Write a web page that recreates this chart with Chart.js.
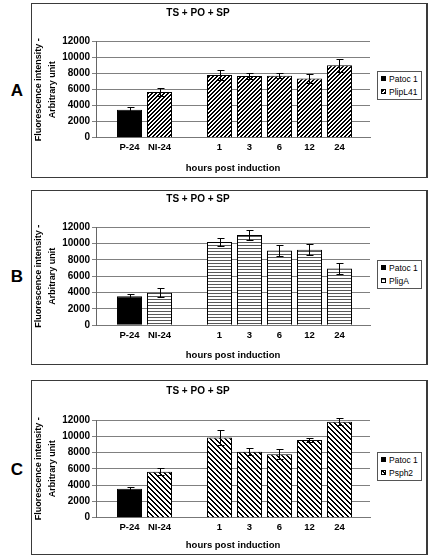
<!DOCTYPE html>
<html>
<head>
<meta charset="utf-8">
<script src="https://cdn.jsdelivr.net/npm/chart.js@4/dist/chart.umd.min.js"></script>
<style>
  body { margin: 0; background: #fff; font-family: 'Liberation Sans', Arial, sans-serif; }
  #page { position: relative; width: 430px; height: 560px; overflow: hidden; }
  .box { position: absolute; left: 31px; width: 397px; height: 175px; box-sizing: border-box;
         border: 1px solid #3a3a3a; border-right-width: 2px; background: #fff; }
  .box canvas { position: absolute; left: 0; top: 0; }
  .title { position: absolute; left: 138px; width: 120px; text-align: center; font-weight: bold;
           font-size: 10px; line-height: 12px; color: #000; }
  .letter { position: absolute; left: 6px; width: 22px; text-align: center; font-weight: bold;
            font-size: 17px; line-height: 18px; color: #000; }
  .legend { position: absolute; left: 377px; width: 45px; height: 29px; box-sizing: border-box;
            border: 1px solid #555; background: #fff; font-size: 8.5px; color: #000; }
  .legend div { position: absolute; left: 3px; height: 10px; line-height: 10px; white-space: nowrap; }
  .legend span { display: inline-block; width: 5px; height: 5px; border: 1px solid #000;
                 box-sizing: border-box; margin-right: 3px; vertical-align: 1px; }
</style>
</head>
<body>
<div id="page"></div>
<script>
// data
const categories = ['P-24', 'NI-24', '', '1', '3', '6', '12', '24'];
const controlName = 'Patoc 1';
const reporterNames = ['PlipL41', 'PligA', 'Psph2'];
const panelLetters = ['A', 'B', 'C'];
const chartTitle = 'TS + PO + SP';
const xTitle = 'hours post induction';
const yTitle = ['Fluorescence intensity -', 'Arbitrary unit'];

const patocA    = [3500, null, null, null, null, null, null, null];
const patocAErr = [280, null, null, null, null, null, null, null];
const plipL41    = [null, 5700, null, 7850, 7700, 7750, 7400, 9050];
const plipL41Err = [null, 500, null, 600, 400, 300, 600, 850];

const patocB    = [3550, null, null, null, null, null, null, null];
const patocBErr = [250, null, null, null, null, null, null, null];
const pligA    = [null, 4000, null, 10200, 11050, 9150, 9250, 6950];
const pligAErr = [null, 550, null, 550, 600, 700, 650, 650];

const patocC    = [3550, null, null, null, null, null, null, null];
const patocCErr = [280, null, null, null, null, null, null, null];
const psph2    = [null, 5650, null, 9850, 8100, 7800, 9550, 11800];
const psph2Err = [null, 400, null, 900, 400, 650, 300, 400];

const controls = [patocA, patocB, patocC];
const controlErrs = [patocAErr, patocBErr, patocCErr];
const reporters = [plipL41, pligA, psph2];
const reporterErrs = [plipL41Err, pligAErr, psph2Err];

// layout of the three panels (page pixels)
const panelLayout = [
  { top: 3,   areaTop: 38.7, areaBottom: 134.7, titleY: 7,   legendTop: 71,  letterY: 82 },
  { top: 190, areaTop: 37.3, areaBottom: 135.3, titleY: 193, legendTop: 260, letterY: 268 },
  { top: 380, areaTop: 40,   areaBottom: 137.7, titleY: 385, legendTop: 452, letterY: 461 }
];
const hatchKinds = ['up', 'horiz', 'down'];

function hatchCanvas(kind) {
  const c = document.createElement('canvas');
  const n = kind === 'horiz' ? 3 : kind === 'up' ? 4 : 5;
  c.width = n; c.height = n;
  const g = c.getContext('2d');
  g.fillStyle = '#fff';
  g.fillRect(0, 0, n, n);
  for (let y = 0; y < n; y++) {
    for (let x = 0; x < n; x++) {
      let on = false;
      if (kind === 'up') on = (x + y) % n < 2;
      if (kind === 'down') on = ((x - y) % n + n) % n < 2;
      if (kind === 'horiz') on = y === 0;
      if (on) {
        g.fillStyle = kind === 'horiz' ? '#5a5a5a' : '#000';
        g.fillRect(x, y, 1, 1);
      }
    }
  }
  return c;
}

const errorBars = {
  id: 'errorBars',
  afterDatasetsDraw(chart) {
    const ctx = chart.ctx;
    const yScale = chart.scales.y;
    ctx.save();
    ctx.strokeStyle = '#000';
    ctx.lineWidth = 1;
    chart.data.datasets.forEach((ds, di) => {
      chart.getDatasetMeta(di).data.forEach((bar, j) => {
        const pt = ds.data[j];
        if (!pt.err) return;
        const x = Math.round(bar.x) + 0.5;
        const top = Math.round(yScale.getPixelForValue(pt.y + pt.err)) + 0.5;
        const bot = Math.round(yScale.getPixelForValue(pt.y - pt.err)) + 0.5;
        ctx.beginPath();
        ctx.moveTo(x, top); ctx.lineTo(x, bot);
        ctx.moveTo(x - 3, top); ctx.lineTo(x + 4, top);
        ctx.moveTo(x - 3, bot); ctx.lineTo(x + 4, bot);
        ctx.stroke();
      });
    });
    ctx.restore();
  }
};

function toPoints(vals, errs) {
  const pts = [];
  vals.forEach((v, i) => { if (v !== null) pts.push({ x: i, y: v, err: errs[i] }); });
  return pts;
}

const page = document.getElementById('page');
const tickFont = { family: "'Liberation Sans', Arial, sans-serif", size: 10, weight: 'bold' };

panelLayout.forEach((L, p) => {
  const box = document.createElement('div');
  box.className = 'box';
  box.style.top = L.top + 'px';
  const canvas = document.createElement('canvas');
  canvas.width = 394; canvas.height = 173;
  box.appendChild(canvas);
  page.appendChild(box);

  const title = document.createElement('div');
  title.className = 'title';
  title.style.top = L.titleY + 'px';
  title.textContent = chartTitle;
  page.appendChild(title);

  const letter = document.createElement('div');
  letter.className = 'letter';
  letter.style.top = L.letterY + 'px';
  letter.textContent = panelLetters[p];
  page.appendChild(letter);

  const tile = hatchCanvas(hatchKinds[p]);
  const legend = document.createElement('div');
  legend.className = 'legend';
  legend.style.top = L.legendTop + 'px';
  legend.innerHTML =
    '<div style="top:2px"><span style="background:#000"></span>' + controlName + '</div>' +
    '<div style="top:15px"><span style="background-image:url(' + tile.toDataURL() + ')"></span>' + reporterNames[p] + '</div>';
  page.appendChild(legend);

  const pattern = canvas.getContext('2d').createPattern(tile, 'repeat');
  const barOpts = { grouped: false, categoryPercentage: 1, barPercentage: 25 / 30, borderColor: '#000', borderWidth: 1 };

  new Chart(canvas, {
    type: 'bar',
    data: {
      datasets: [
        Object.assign({ label: controlName, data: toPoints(controls[p], controlErrs[p]), backgroundColor: '#000' }, barOpts),
        Object.assign({ label: reporterNames[p], data: toPoints(reporters[p], reporterErrs[p]), backgroundColor: pattern }, barOpts)
      ]
    },
    options: {
      responsive: false,
      animation: false,
      devicePixelRatio: 1,
      layout: { padding: { top: L.areaTop - 1, right: 56, bottom: 0, left: 0 } },
      plugins: { legend: { display: false }, tooltip: { enabled: false } },
      scales: {
        x: {
          type: 'linear',
          min: -1.117,
          max: 8.017,
          offset: false,
          grid: { display: false, offset: false, drawTicks: false, tickLength: 0 },
          border: { color: '#777' },
          afterBuildTicks: s => { s.ticks = categories.map((c, i) => ({ value: i })).filter(t => categories[t.value] !== ''); },
          afterFit: s => { s.height = 173 - (L.areaBottom - 1); },
          ticks: { autoSkip: false, maxRotation: 0, padding: 4, color: '#000',
                   font: Object.assign({}, tickFont, { size: 9.5 }), callback: v => categories[v] },
          title: { display: true, text: xTitle, color: '#000', padding: { top: 0, bottom: 3 },
                   font: Object.assign({}, tickFont, { size: 9.5 }) }
        },
        y: {
          min: 0,
          max: 12000,
          afterFit: s => { s.width = 64; },
          ticks: { stepSize: 2000, padding: 2, color: '#000', font: tickFont, callback: v => String(v) },
          grid: { color: '#808080', tickLength: 4 },
          border: { color: '#666' },
          title: { display: true, text: yTitle, color: '#000', padding: { top: 0, bottom: 0 },
                   font: Object.assign({}, tickFont, { size: 9, lineHeight: 1.5 }) }
        }
      }
    },
    plugins: [errorBars]
  });
});
</script>
</body>
</html>
